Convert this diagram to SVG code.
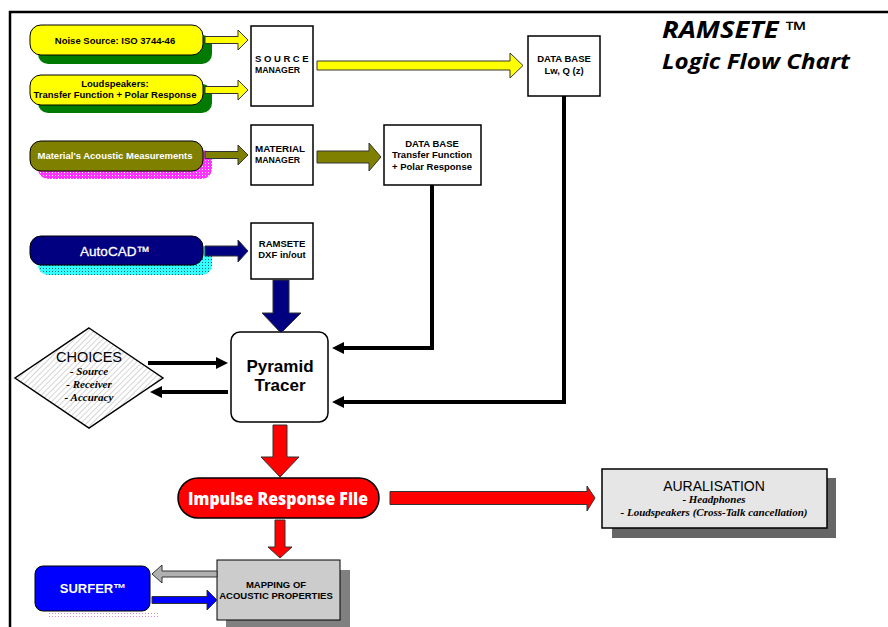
<svg xmlns="http://www.w3.org/2000/svg" width="888" height="627" viewBox="0 0 888 627">
<defs>
<pattern id="pMag" width="3" height="3" patternUnits="userSpaceOnUse"><rect width="3" height="3" fill="#ff33ff"/><rect x="1" y="1" width="1" height="1" fill="#ffffff"/></pattern>
<pattern id="pCyan" width="3" height="3" patternUnits="userSpaceOnUse"><rect width="3" height="3" fill="#33ffff"/><rect x="1" y="1" width="1" height="1" fill="#006666"/></pattern>
<pattern id="pPink" width="3" height="3" patternUnits="userSpaceOnUse"><rect width="3" height="3" fill="#ffffff"/><rect x="1" y="1" width="1" height="1" fill="#dd88dd"/></pattern>
<pattern id="pHatch" width="4" height="4" patternUnits="userSpaceOnUse" patternTransform="rotate(45)"><rect width="4" height="4" fill="#ffffff"/><line x1="0" y1="0" x2="0" y2="4" stroke="#c8c8c8" stroke-width="1.5"/></pattern>
<marker id="ah" viewBox="0 0 10 10" refX="5" refY="5" markerWidth="3" markerHeight="3.5" orient="auto" markerUnits="strokeWidth"><path d="M0,0 L10,5 L0,10 z" fill="#000"/></marker>
</defs>
<style>
.box{fill:#fff;stroke:#000;stroke-width:1.5}
.t{font-family:"Liberation Sans",Arial,sans-serif;font-weight:bold;font-size:9.5px;fill:#000}
.c{text-anchor:middle}
.w{fill:#fff}
.it{font-family:"Liberation Serif","Times New Roman",serif;font-style:italic;font-weight:bold;font-size:11px;fill:#000;text-anchor:middle}
.arr{stroke:#333;stroke-width:1}
.blk{stroke:#000;stroke-width:4;fill:none;marker-end:url(#ah)}
</style>
<rect width="888" height="627" fill="#fff"/>
<g id="frame"><path d="M10,627 V12 H888" fill="none" stroke="#000" stroke-width="2.5"/></g>
<g id="title" font-family="'Open Sans',sans-serif" font-weight="bold" font-style="italic" fill="#000">
<text x="662" y="38" font-size="23" textLength="145" lengthAdjust="spacingAndGlyphs">RAMSETE ™</text>
<text x="662" y="69" font-size="22" textLength="188" lengthAdjust="spacingAndGlyphs">Logic Flow Chart</text>
</g>
<g id="noise-source">
<rect x="38" y="35" width="174" height="29" rx="10" fill="#007a00"/>
<rect x="30" y="25" width="173" height="30" rx="11" fill="#ffff00" stroke="#000"/>
<text class="t c" x="115" y="44">Noise Source: ISO 3744-46</text>
</g>
<g id="loudspeakers">
<rect x="38" y="84" width="174" height="29" rx="10" fill="#007a00"/>
<rect x="30" y="75" width="173" height="30" rx="11" fill="#ffff00" stroke="#000"/>
<text class="t c" x="115" y="87">Loudspeakers:</text>
<text class="t c" x="115" y="98">Transfer Function + Polar Response</text>
</g>
<g id="materials">
<rect x="38" y="150" width="174" height="29" rx="10" fill="url(#pMag)"/>
<rect x="30" y="141" width="173" height="30" rx="11" fill="#808000" stroke="#000"/>
<text class="t c w" x="115" y="159">Material's Acoustic Measurements</text>
</g>
<g id="autocad">
<rect x="38" y="246" width="174" height="29" rx="10" fill="url(#pCyan)"/>
<rect x="30" y="236" width="173" height="29" rx="11" fill="#000080" stroke="#000"/>
<text x="115" y="256" font-family="'Liberation Sans',Arial,sans-serif" font-size="13.5" fill="#fff" stroke="#fff" stroke-width="0.3" text-anchor="middle">AutoCAD™</text>
</g>
<g id="source-manager">
<rect class="box" x="251" y="26" width="62" height="80"/>
<text class="t" x="255" y="62" letter-spacing="2.6">SOURCE</text>
<text class="t" x="255" y="73" textLength="45" lengthAdjust="spacingAndGlyphs">MANAGER</text>
</g>
<g id="material-manager">
<rect class="box" x="251" y="125" width="62" height="60"/>
<text class="t" x="255" y="152" textLength="50" lengthAdjust="spacingAndGlyphs">MATERIAL</text>
<text class="t" x="255" y="163" textLength="45" lengthAdjust="spacingAndGlyphs">MANAGER</text>
</g>
<g id="db-lw">
<rect class="box" x="528" y="36" width="72" height="60"/>
<text class="t c" x="564" y="62">DATA BASE</text>
<text class="t c" x="564" y="74">Lw, Q (z)</text>
</g>
<g id="db-transfer">
<rect class="box" x="384" y="125" width="97" height="60"/>
<text class="t c" x="432" y="147">DATA BASE</text>
<text class="t c" x="432" y="158">Transfer Function</text>
<text class="t c" x="432" y="170">+ Polar Response</text>
</g>
<g id="dxf">
<rect class="box" x="251" y="223" width="62" height="56"/>
<text class="t c" x="282" y="247">RAMSETE</text>
<text class="t c" x="282" y="258">DXF in/out</text>
</g>
<g id="choices">
<polygon points="89,328 163,378 89,428 15,378" fill="url(#pHatch)" stroke="#000" stroke-width="1.5"/>
<text x="89" y="362" font-family="'Liberation Sans',Arial,sans-serif" font-size="14.5" text-anchor="middle">CHOICES</text>
<text class="it" x="89" y="375">- Source</text>
<text class="it" x="89" y="388">- Receiver</text>
<text class="it" x="89" y="401">- Accuracy</text>
</g>
<g id="pyramid-tracer">
<rect x="231" y="332" width="97" height="90" rx="9" fill="#fff" stroke="#000" stroke-width="1.5"/>
<text x="280" y="372" font-family="'Liberation Sans',Arial,sans-serif" font-weight="bold" font-size="17" text-anchor="middle">Pyramid</text>
<text x="280" y="391" font-family="'Liberation Sans',Arial,sans-serif" font-weight="bold" font-size="17" text-anchor="middle">Tracer</text>
</g>
<g id="impulse-response">
<rect x="178" y="478" width="201" height="40" rx="20" fill="#ff0000" stroke="#000" stroke-width="1.5"/>
<text x="278" y="505" font-family="'Open Sans',sans-serif" font-weight="800" font-size="18" fill="#fff" text-anchor="middle" textLength="180" lengthAdjust="spacingAndGlyphs">Impulse Response File</text>
</g>
<g id="auralisation">
<rect x="612" y="478" width="224" height="60" fill="#666"/>
<rect x="602" y="469" width="225" height="59" fill="#e6e6e6" stroke="#000" stroke-width="1.5"/>
<text x="714" y="491" font-family="'Liberation Sans',Arial,sans-serif" font-size="14" text-anchor="middle">AURALISATION</text>
<text class="it" x="714" y="503" font-size="10">- Headphones</text>
<text class="it" x="714" y="516" font-size="10">- Loudspeakers (Cross-Talk cancellation)</text>
</g>
<g id="mapping">
<rect x="226" y="570" width="124" height="57" fill="#808080"/>
<rect x="217" y="560" width="123" height="60" fill="#cccccc" stroke="#000"/>
<text class="t c" x="276" y="588" font-size="9">MAPPING OF</text>
<text class="t c" x="276" y="599" font-size="9">ACOUSTIC PROPERTIES</text>
</g>
<g id="surfer">
<rect x="47" y="611" width="112" height="8" fill="url(#pPink)"/>
<rect x="35" y="566" width="115" height="45" rx="8" fill="#0000ff" stroke="#000"/>
<text x="93" y="593" font-family="'Liberation Sans',Arial,sans-serif" font-weight="bold" font-size="13" fill="#fff" text-anchor="middle">SURFER™</text>
</g>
<g id="connectors">
<polygon class="arr" fill="#ffff00" points="205,36.5 238,36.5 238,30 248,40 238,50 238,43.5 205,43.5"/>
<polygon class="arr" fill="#ffff00" points="205,86.5 238,86.5 238,80 248,90 238,100 238,93.5 205,93.5"/>
<polygon class="arr" fill="#808000" points="205,151.5 238,151.5 238,145 248,155 238,165 238,158.5 205,158.5"/>
<polygon class="arr" fill="#000080" points="205,246 238,246 238,240 248,251 238,262 238,256 205,256"/>
<polygon class="arr" fill="#ffff00" points="317,61 510,61 510,53 523,65.5 510,78 510,70 317,70"/>
<polygon class="arr" fill="#808000" points="317,151 369,151 369,143 381,157 369,171 369,163 317,163"/>
<polygon class="arr" fill="#000080" points="273,280 289,280 289,313 301,313 281,333 262,313 273,313"/>
<path class="blk" d="M432,185 V348 H338"/>
<path class="blk" d="M564,96 V402 H338"/>
<path class="blk" d="M148,363 H222"/>
<path class="blk" d="M228,392 H156"/>
<polygon class="arr" fill="#ff0000" points="273,425 287,425 287,457 299,457 280,477 261,457 273,457"/>
<polygon class="arr" fill="#ff0000" points="390,491.5 587,491.5 587,486 595,498 587,511 587,504.5 390,504.5"/>
<polygon class="arr" fill="#ff0000" points="275,520 285,520 285,547 292,547 280,558 268,547 275,547"/>
<polygon class="arr" fill="#b0b0b0" points="217,571 162,571 162,565 152,574 162,583 162,577 217,577"/>
<polygon class="arr" fill="#0000ff" points="152,596.5 207,596.5 207,590 217,600 207,610 207,603.5 152,603.5"/>
</g>
</svg>
